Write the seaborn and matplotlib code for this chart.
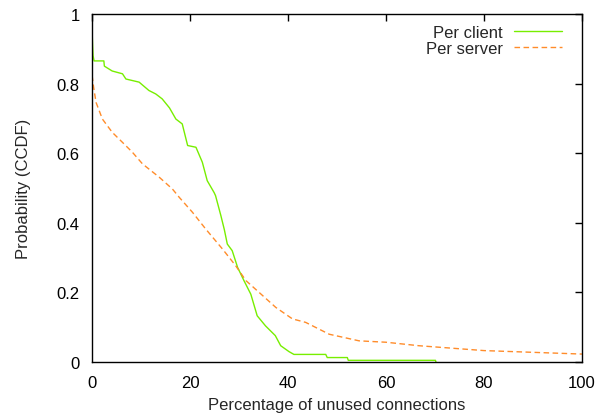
import matplotlib
matplotlib.use("Agg")
import matplotlib.pyplot as plt
import seaborn as sns
import pandas as pd

# Per client (CCDF)
client_x = [0, 0.1, 0.2, 0.4, 2.4, 2.5, 4.1, 6.2, 6.9, 9.6, 11.6, 13.0, 14.3, 15.8,
            17.1, 18.4, 19.5, 21.2, 22.5, 23.5, 24.9, 25.2, 26.3, 27.0, 27.6, 28.6,
            29.7, 31.0, 32.4, 33.7, 35.4, 37.4, 38.5, 40.2, 41.2, 47.7, 48.0, 52.1,
            52.3, 70.1, 70.2]
client_y = [0.95, 0.91, 0.88, 0.865, 0.865, 0.85, 0.836, 0.828, 0.813, 0.804, 0.78,
            0.77, 0.756, 0.73, 0.698, 0.684, 0.622, 0.617, 0.574, 0.521, 0.487, 0.478,
            0.42, 0.38, 0.339, 0.32, 0.272, 0.234, 0.195, 0.133, 0.104, 0.076, 0.047,
            0.03, 0.022, 0.022, 0.013, 0.013, 0.005, 0.005, 0.0]

# Per server (CCDF)
server_x = [0, 0.3, 0.8, 2.1, 4.1, 6.2, 8.2, 10.3, 13.7, 16.4, 17.8, 20.5, 23.2, 26.6,
            29.3, 31.4, 34.1, 37.5, 40.9, 43.6, 48.4, 54.5, 60.0, 66.7, 80.0, 100.0]
server_y = [0.823, 0.79, 0.746, 0.698, 0.66, 0.631, 0.603, 0.569, 0.531, 0.497, 0.473,
            0.43, 0.382, 0.325, 0.277, 0.234, 0.2, 0.157, 0.124, 0.114, 0.08, 0.061,
            0.057, 0.047, 0.033, 0.023]

x_ticks = [0, 20, 40, 60, 80, 100]
y_ticks = [0, 0.2, 0.4, 0.6, 0.8, 1]
y_tick_labels = ["0", "0.2", "0.4", "0.6", "0.8", "1"]

sns.set_style("white")
plt.rcParams['font.family'] = ['Liberation Sans', 'DejaVu Sans']

fig = plt.figure(figsize=(6.10, 4.14), dpi=100)
ax = fig.add_axes([0.151, 0.123, 0.803, 0.841])

df_c = pd.DataFrame({"x": client_x, "y": client_y})
df_s = pd.DataFrame({"x": server_x, "y": server_y})

sns.lineplot(data=df_c, x="x", y="y", ax=ax, color="#77ee00", linewidth=1.0,
             sort=False, estimator=None, label="Per client")
sns.lineplot(data=df_s, x="x", y="y", ax=ax, color="#ff8c2a", linewidth=1.0,
             sort=False, estimator=None, label="Per server", dashes=False)
ax.lines[1].set_linestyle((0, (4, 2.5)))

ax.set_xlim(0, 100)
ax.set_ylim(0, 1)
ax.set_xticks(x_ticks)
ax.set_xticklabels([str(t) for t in x_ticks])
ax.set_yticks(y_ticks)
ax.set_yticklabels(y_tick_labels)
ax.tick_params(direction="in", length=5, width=1, top=True, right=True,
               labelsize=12, colors="black")
ax.tick_params(axis="x", pad=9)
ax.tick_params(axis="y", pad=9)
for s in ax.spines.values():
    s.set_color("black")
    s.set_linewidth(1.0)
ax.set_xlabel("Percentage of unused connections", fontsize=12, labelpad=5)
ax.set_ylabel("Probability (CCDF)", fontsize=12, labelpad=18)

leg = ax.legend(loc="upper right", frameon=False, markerfirst=False, fontsize=12,
                handlelength=2.9, borderaxespad=0.0, labelspacing=0.05,
                handletextpad=0.65, borderpad=0.0,
                bbox_to_anchor=(0.959, 0.968))

fig.savefig("out.png", dpi=100)
